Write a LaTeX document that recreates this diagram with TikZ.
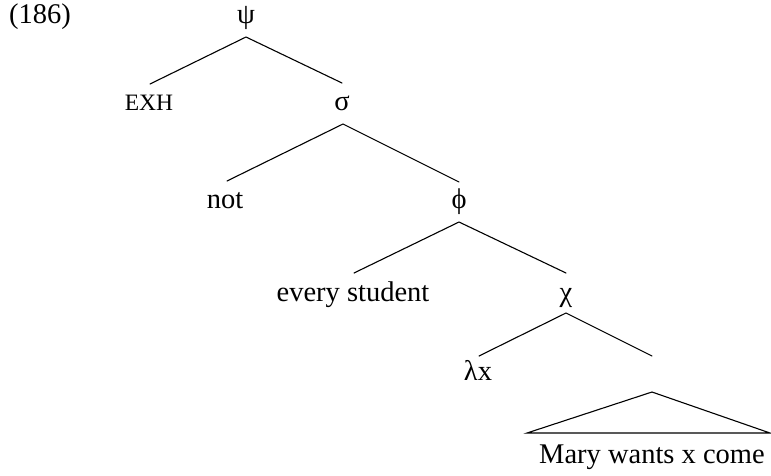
\documentclass[tikz,border=0pt]{standalone}
\usepackage{fontspec}
\setmainfont{Liberation Serif}
\begin{document}
\begin{tikzpicture}[x=1pt,y=-1pt,
  lab/.style={anchor=base,inner sep=0pt,font=\fontsize{28.5}{34}\selectfont},
  edge/.style={line width=1.1pt,line cap=round}]
\useasboundingbox (0,0) rectangle (771,475);
% labels
\node[lab,anchor=base west] (ex) at (9,23) {(186)};
\node[lab] (psi) at (246,23) {ψ};
\node[lab,font=\fontsize{23.5}{28}\selectfont] (exh) at (149,110) {EXH};
\node[lab] (sigma) at (342,110) {σ};
\node[lab] (not) at (225,208) {not};
\node[lab] (phi) at (459,208) {ϕ};
\node[lab] (es) at (353,301) {every student};
\node[lab] (chi) at (566,301) {χ};
\node[lab] (lx) at (478,380) {λx};
\node[inner sep=0pt] (vp) at (652,374) {};
\node[lab] (mary) at (652,463) {Mary wants x come};
% edge end points
\coordinate (psi-d) at (246,37);
\coordinate (exh-u) at (150,84);
\coordinate (sigma-u) at (342,83);
\coordinate (sigma-d) at (343,124);
\coordinate (not-u) at (227,181);
\coordinate (phi-u) at (459,182);
\coordinate (phi-d) at (459,222);
\coordinate (es-u) at (354,273);
\coordinate (chi-u) at (566,273);
\coordinate (chi-d) at (566,313);
\coordinate (lx-u) at (479,356);
\coordinate (vp-u) at (652,356);
\coordinate (vp-d) at (652,392);
\coordinate (tri-l) at (527,433);
\coordinate (tri-r) at (770,433);
% edges
\draw[edge] (exh-u) -- (psi-d) -- (sigma-u);
\draw[edge] (not-u) -- (sigma-d) -- (phi-u);
\draw[edge] (es-u) -- (phi-d) -- (chi-u);
\draw[edge] (lx-u) -- (chi-d) -- (vp-u);
\draw[edge,line join=miter] (tri-l) -- (vp-d) -- (tri-r) -- cycle;
\end{tikzpicture}
\end{document}
